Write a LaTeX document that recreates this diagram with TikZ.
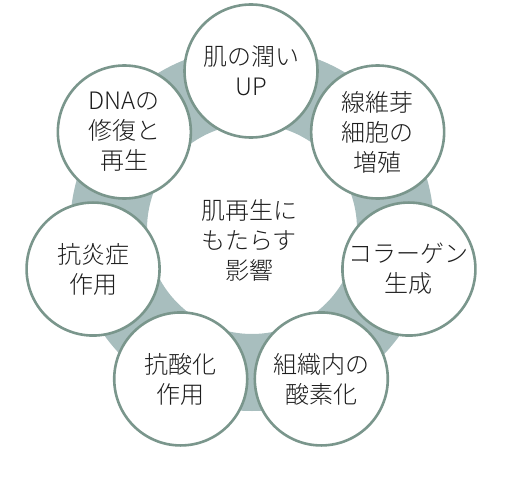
\documentclass[tikz,border=0pt]{standalone}
\usepackage{fontspec}
\newfontfamily\jpfont{Noto Sans CJK JP Light}
\definecolor{ringgray}{HTML}{A8BEBE}
\definecolor{rimgreen}{HTML}{7A968C}
\definecolor{inkgray}{HTML}{1E1E1E}
\tikzset{
	petal/.style={circle, draw=rimgreen, line width=2.6pt, fill=white, minimum size=133pt, inner sep=0pt, align=center, text=inkgray, font=\jpfont\fontsize{24}{30}\selectfont},
	hubtext/.style={align=center, text=inkgray, font=\jpfont\fontsize{24}{30}\selectfont}
}
\begin{document}
\begin{tikzpicture}[x=1pt,y=-1pt]
		\useasboundingbox (0,0) rectangle (508,500);
		\coordinate (hub) at (251,233);
		\coordinate (ringc) at (252,229);
		\fill[ringgray, even odd rule] (ringc) circle (182) (ringc) circle (105);
		\foreach \nm/\txt [count=\k from 0] in {moist/{肌の潤い\\UP}, fibro/{線維芽\\細胞の\\増殖}, collagen/{コラーゲン\\生成}, oxygen/{組織内の\\酸素化}, antiox/{抗酸化\\作用}, antiinf/{抗炎症\\作用}, dna/{DNAの\\修復と\\再生}}{
			\node[petal] (\nm) at ([shift={(-90+\k*360/7:162)}]hub) {\txt};
		}
		\node[hubtext] (core) at (249,240) {肌再生に\\もたらす\\影響};
	\end{tikzpicture}
\end{document}
